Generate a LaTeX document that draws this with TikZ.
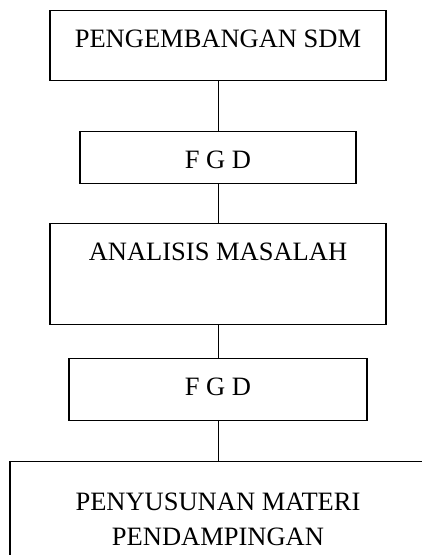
\documentclass[tikz,border=0pt]{standalone}
\usepackage{fontspec}
\setmainfont{Liberation Serif}
\usetikzlibrary{positioning}

\begin{document}
\begin{tikzpicture}[x=1pt,y=-1pt,font=\fontsize{26.5}{35}\selectfont,
  box/.style={draw,line width=1.4pt,anchor=north,inner xsep=0pt,inner ysep=0pt,text height=37pt,align=center},
  link/.style={line width=1pt}]
  \useasboundingbox (0,0) rectangle (422,555);
  \node[box,minimum width=336pt,text depth=33pt] (sdm) at (218,10) {PENGEMBANGAN SDM};
  \node[box,minimum width=276pt,text depth=15pt] (fgda) at (218,131) {F G D};
  \node[box,minimum width=336pt,text depth=64pt] (analisis) at (218,223) {ANALISIS MASALAH};
  \node[box,minimum width=298pt,text depth=25pt] (fgdb) at (218,358) {F G D};
  \node[box,minimum width=416pt,minimum height=130pt] (materi) at (218,461) {PENYUSUNAN MATERI\\PENDAMPINGAN};
  \draw[link] (sdm) -- (fgda);
  \draw[link] (fgda) -- (analisis);
  \draw[link] (analisis) -- (fgdb);
  \draw[link] (fgdb) -- (materi);
\end{tikzpicture}
\end{document}
